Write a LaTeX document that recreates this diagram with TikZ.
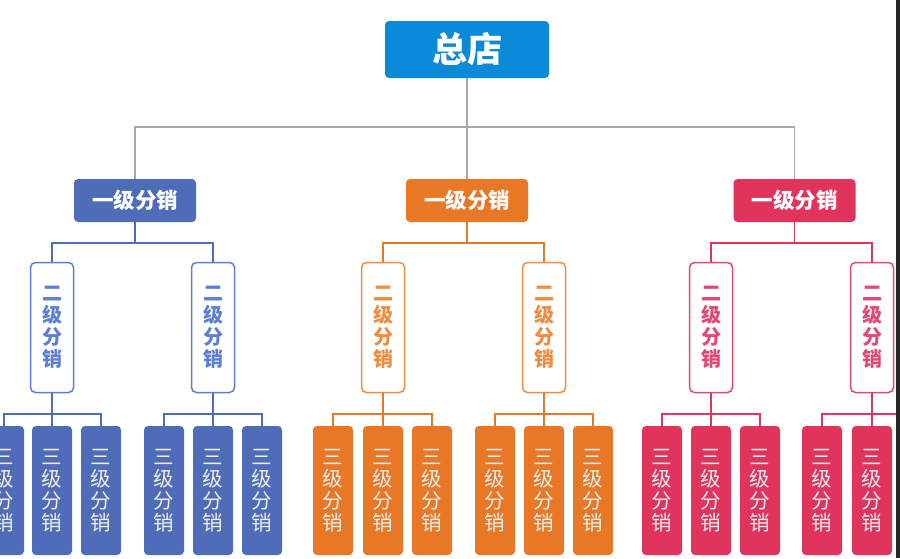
\documentclass[tikz,border=0pt]{standalone}
\usepackage{fontspec}
\newfontfamily\cjk{Noto Sans CJK SC}
\definecolor{zdblue}{RGB}{10,138,216}
\definecolor{fxblue}{RGB}{78,108,184}
\definecolor{fxorange}{RGB}{232,120,38}
\definecolor{fxred}{RGB}{224,52,92}
\definecolor{txblue}{RGB}{92,126,212}
\definecolor{txorange}{RGB}{240,140,64}
\definecolor{txred}{RGB}{228,72,112}
\definecolor{lngray}{RGB}{168,168,168}

\begin{document}
\begin{tikzpicture}[x=1pt,y=-1pt]
		\tikzset{root/.style={shape=rectangle, rounded corners=4pt, fill=zdblue, text=white, inner sep=0pt, minimum width=164pt, minimum height=57pt, font=\cjk\bfseries\fontsize{35}{38}\selectfont}}
		\tikzset{firstlvl/.style={shape=rectangle, rounded corners=4pt, fill=#1, text=white, inner sep=0pt, minimum width=122pt, minimum height=43pt, font=\cjk\bfseries\fontsize{21.5}{23}\selectfont}}
		\tikzset{secondlvl/.style={shape=rectangle, rounded corners=5pt, draw=#1, line width=1.5pt, fill=white, text=#1, inner sep=0pt, minimum width=43pt, minimum height=130pt, align=center, font=\cjk\bfseries\fontsize{20}{22}\selectfont}}
		\tikzset{thirdlvl/.style={shape=rectangle, rounded corners=4pt, fill=#1, text=white!94!black, inner sep=0pt, minimum width=40pt, minimum height=129pt, align=center, font=\cjk\fontsize{20.5}{22}\selectfont}}
		\tikzset{edge/.style={draw=#1, line width=1.6pt}}
		\useasboundingbox (0,0) rectangle (900,558);
		\fill[white] (0,0) rectangle (900,558);
					%vertices
					\node[root] (zd) at (467, 49.5) {总店};
					\node[firstlvl=fxblue] (a1) at (135, 200.5) {一级分销};
					\node[firstlvl=fxorange] (a2) at (467, 200.5) {一级分销};
					\node[firstlvl=fxred] (a3) at (794.5, 200.5) {一级分销};
					\node[secondlvl=txblue] (b11) at (52, 327.5) {二\\级\\分\\销};
					\node[secondlvl=txblue] (b12) at (213, 327.5) {二\\级\\分\\销};
					\node[secondlvl=txorange] (b21) at (383, 327.5) {二\\级\\分\\销};
					\node[secondlvl=txorange] (b22) at (544, 327.5) {二\\级\\分\\销};
					\node[secondlvl=txred] (b31) at (711, 327.5) {二\\级\\分\\销};
					\node[secondlvl=txred] (b32) at (872, 327.5) {二\\级\\分\\销};
					\node[thirdlvl=fxblue] (c111) at (4, 490.5) {三\\级\\分\\销};
					\node[thirdlvl=fxblue] (c112) at (52, 490.5) {三\\级\\分\\销};
					\node[thirdlvl=fxblue] (c113) at (101, 490.5) {三\\级\\分\\销};
					\node[thirdlvl=fxblue] (c121) at (164, 490.5) {三\\级\\分\\销};
					\node[thirdlvl=fxblue] (c122) at (213, 490.5) {三\\级\\分\\销};
					\node[thirdlvl=fxblue] (c123) at (262, 490.5) {三\\级\\分\\销};
					\node[thirdlvl=fxorange] (c211) at (333, 490.5) {三\\级\\分\\销};
					\node[thirdlvl=fxorange] (c212) at (383, 490.5) {三\\级\\分\\销};
					\node[thirdlvl=fxorange] (c213) at (432, 490.5) {三\\级\\分\\销};
					\node[thirdlvl=fxorange] (c221) at (495, 490.5) {三\\级\\分\\销};
					\node[thirdlvl=fxorange] (c222) at (544, 490.5) {三\\级\\分\\销};
					\node[thirdlvl=fxorange] (c223) at (593, 490.5) {三\\级\\分\\销};
					\node[thirdlvl=fxred] (c311) at (662, 490.5) {三\\级\\分\\销};
					\node[thirdlvl=fxred] (c312) at (711, 490.5) {三\\级\\分\\销};
					\node[thirdlvl=fxred] (c313) at (760, 490.5) {三\\级\\分\\销};
					\node[thirdlvl=fxred] (c321) at (822, 490.5) {三\\级\\分\\销};
					\node[thirdlvl=fxred] (c322) at (872, 490.5) {三\\级\\分\\销};
					\node[thirdlvl=fxred] (c323) at (921, 490.5) {三\\级\\分\\销};
					%edges
					\draw[edge=lngray] (zd.south) -- ++(0,49) -| (a1.north);
					\draw[edge=lngray] (zd.south) -- (a2.north);
					\draw[edge=lngray] (zd.south) -- ++(0,49) -| (a3.north);
					\draw[edge=fxblue] (a1.south) -- ++(0,21) -| (b11.north);
					\draw[edge=fxblue] (a1.south) -- ++(0,21) -| (b12.north);
					\draw[edge=fxorange] (a2.south) -- ++(0,21) -| (b21.north);
					\draw[edge=fxorange] (a2.south) -- ++(0,21) -| (b22.north);
					\draw[edge=fxred] (a3.south) -- ++(0,21) -| (b31.north);
					\draw[edge=fxred] (a3.south) -- ++(0,21) -| (b32.north);
					\draw[edge=fxblue] (b11.south) -- ++(0,21) -| (c111.north);
					\draw[edge=fxblue] (b11.south) -- (c112.north);
					\draw[edge=fxblue] (b11.south) -- ++(0,21) -| (c113.north);
					\draw[edge=fxblue] (b12.south) -- ++(0,21) -| (c121.north);
					\draw[edge=fxblue] (b12.south) -- (c122.north);
					\draw[edge=fxblue] (b12.south) -- ++(0,21) -| (c123.north);
					\draw[edge=fxorange] (b21.south) -- ++(0,21) -| (c211.north);
					\draw[edge=fxorange] (b21.south) -- (c212.north);
					\draw[edge=fxorange] (b21.south) -- ++(0,21) -| (c213.north);
					\draw[edge=fxorange] (b22.south) -- ++(0,21) -| (c221.north);
					\draw[edge=fxorange] (b22.south) -- (c222.north);
					\draw[edge=fxorange] (b22.south) -- ++(0,21) -| (c223.north);
					\draw[edge=fxred] (b31.south) -- ++(0,21) -| (c311.north);
					\draw[edge=fxred] (b31.south) -- (c312.north);
					\draw[edge=fxred] (b31.south) -- ++(0,21) -| (c313.north);
					\draw[edge=fxred] (b32.south) -- ++(0,21) -| (c321.north);
					\draw[edge=fxred] (b32.south) -- (c322.north);
					\draw[edge=fxred] (b32.south) -- ++(0,21) -| (c323.north);
					%frame edge
					\fill[black!85] (896,0) rectangle (900,558);
					
					\end{tikzpicture}
\end{document}
